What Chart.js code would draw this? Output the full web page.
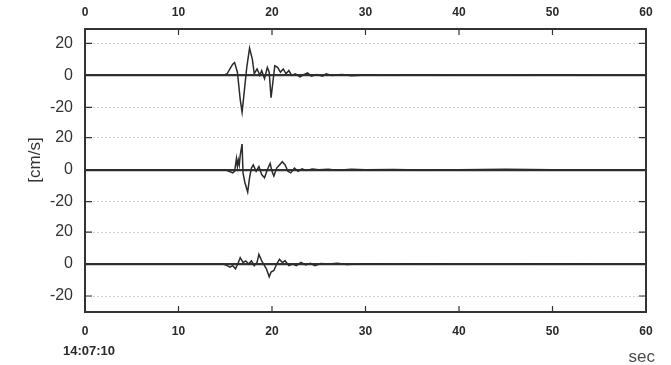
<!DOCTYPE html>
<html>
<head>
<meta charset="utf-8">
<script src="https://cdn.jsdelivr.net/npm/chart.js@4/dist/chart.umd.min.js"></script>
<style>
  html, body { margin: 0; padding: 0; background: #ffffff; }
  #wrap { position: relative; width: 671px; height: 365px; }
</style>
</head>
<body>
<div id="wrap"><canvas id="c"></canvas></div>
<script>
// ---- data (velocity in cm/s vs seconds after 14:07:10) ----
const xTicks = [0, 10, 20, 30, 40, 50, 60];
const yTickLabels = [20, 0, -20];
const traceOffsets = [0, -59, -118];   // vertical stacking of the three components
const startTime = "14:07:10";
const xUnit = "sec";
const yUnit = "[cm/s]";

const trace1Time = [0, 14.8, 15.2, 15.5, 15.8, 16.0, 16.3, 16.6, 16.8, 17.0, 17.3, 17.6, 17.9, 18.1, 18.4, 18.7, 18.9, 19.2, 19.5, 19.7, 19.9, 20.1, 20.3, 20.6, 20.9, 21.2, 21.5, 21.8, 22.1, 22.5, 23.0, 23.4, 23.8, 24.2, 24.8, 25.4, 25.8, 26.4, 27.5, 28.5, 30, 32, 35, 40, 45, 50, 55, 60];
const trace1Vel  = [0, 0, 1, 4, 7, 8, 2, -15, -23, -12, 5, 17, 10, 1, 4, 0, 3, -2, 5, 2, -14, -4, 6, 5, 2, 4, 1, 3, 0, 1, -1, 0.5, 1.5, -0.5, 0.5, -0.5, 1, 0, 0.5, -0.3, 0.3, 0, 0.2, 0, 0, 0.2, 0, 0];

const trace2Time = [0, 15.0, 15.4, 15.8, 16.0, 16.2, 16.3, 16.4, 16.5, 16.6, 16.8, 16.9, 17.1, 17.4, 17.6, 17.8, 18.0, 18.3, 18.6, 18.9, 19.2, 19.5, 19.8, 20.0, 20.2, 20.5, 20.8, 21.1, 21.4, 21.7, 22.0, 22.4, 22.8, 23.2, 23.7, 24.3, 25, 26, 27, 28.5, 30, 33, 36, 40, 45, 50, 55, 60];
const trace2Vel  = [0, 0, -1, -2, -1, 7, 2, 6, 3, 9, 16, -2, -8, -14, -5, 1, 3, -1, 2, -3, -5, 0, 4, -1, -4, 1, 3, 5, 3, -1, -2, 1, -1, 0.5, -0.5, 0.5, 0, 0.3, -0.3, 0.3, 0, 0.2, -0.2, 0, 0.3, 0, 0, 0];

const trace3Time = [0, 14.8, 15.2, 15.5, 15.8, 16.1, 16.4, 16.6, 16.9, 17.2, 17.5, 17.8, 18.1, 18.4, 18.6, 18.9, 19.1, 19.4, 19.7, 19.9, 20.2, 20.5, 20.8, 21.1, 21.4, 21.8, 22.2, 22.6, 23.1, 23.6, 24.1, 24.6, 25.2, 26, 27, 28, 30, 33, 36, 40, 45, 50, 55, 60];
const trace3Vel  = [0, 0, -1, -2, -1, -3, 1, 4, 1, 2, 0, 2, -1, 1, 6, 2, 0, -3, -8, -5, -4, 0, 3, 1, 2, -1, 0, -1, 1, -0.5, 0.5, -1, 0.3, 0, 0.5, -0.3, 0.2, 0, 0.2, 0, 0, 0.2, 0, 0];

// ---- build ----
const traces = [[trace1Time, trace1Vel], [trace2Time, trace2Vel], [trace3Time, trace3Vel]];
const yTickValues = [];
traceOffsets.forEach(o => yTickLabels.forEach(l => yTickValues.push(o + l)));
const zeroValues = traceOffsets.slice();

function labelFor(v) {
  let best = traceOffsets[0];
  traceOffsets.forEach(o => { if (Math.abs(v - o) < Math.abs(v - best)) best = o; });
  return String(Math.round(v - best));
}
function isZero(v) { return zeroValues.some(z => Math.abs(z - v) < 1e-6); }

const datasets = traces.map(([t, v], i) => ({
  data: t.map((x, k) => ({ x: x, y: v[k] + traceOffsets[i] })),
  borderColor: '#2b2b2b',
  borderWidth: 1.5,
  pointRadius: 0,
  tension: 0,
  fill: false,
  xAxisID: 'x',
  yAxisID: 'y'
}));

const frame = {
  id: 'frame',
  afterDatasetsDraw(chart) {
    const { ctx, chartArea: a, scales } = chart;
    ctx.save();
    ctx.strokeStyle = '#333';
    ctx.lineWidth = 1.2;
    xTicks.forEach(v => {
      if (v === 0 || v === 60) return;
      const px = scales.x.getPixelForValue(v);
      ctx.beginPath();
      ctx.moveTo(px, a.top); ctx.lineTo(px, a.top + 6);
      ctx.moveTo(px, a.bottom); ctx.lineTo(px, a.bottom - 6);
      ctx.stroke();
    });
    yTickValues.forEach(v => {
      if (isZero(v)) return;
      const py = scales.y.getPixelForValue(v);
      ctx.beginPath();
      ctx.moveTo(a.left, py); ctx.lineTo(a.left + 7, py);
      ctx.moveTo(a.right, py); ctx.lineTo(a.right - 7, py);
      ctx.stroke();
    });
    ctx.lineWidth = 2;
    ctx.strokeRect(a.left, a.top, a.right - a.left, a.bottom - a.top);
    ctx.restore();
  },
  afterDraw(chart) {
    const { ctx, scales } = chart;
    ctx.save();
    ctx.fillStyle = '#2a2a2a';
    ctx.font = 'bold 13px "Liberation Sans", Arial, sans-serif';
    ctx.textAlign = 'center';
    ctx.textBaseline = 'middle';
    ctx.fillText(startTime, scales.x.getPixelForValue(0) + 4, 351);
    ctx.fillStyle = '#4a4a4a';
    ctx.font = '17px "Liberation Sans", Arial, sans-serif';
    ctx.textAlign = 'right';
    ctx.textBaseline = 'alphabetic';
    ctx.fillText(xUnit, 655, 362);
    ctx.fillStyle = '#333';
    ctx.font = '17px "Liberation Sans", Arial, sans-serif';
    ctx.translate(35, 160);
    ctx.rotate(-Math.PI / 2);
    ctx.textAlign = 'center';
    ctx.textBaseline = 'middle';
    ctx.fillText(yUnit, 0, 0);
    ctx.restore();
  }
};

const tickFontBold = { family: '"Liberation Sans", Arial, sans-serif', size: 12, weight: 'bold' };

new Chart(document.getElementById('c'), {
  type: 'line',
  data: { datasets },
  plugins: [frame],
  options: {
    responsive: true,
    maintainAspectRatio: false,
    animation: false,
    events: [],
    layout: { padding: { left: 0, right: 25, top: 0, bottom: 0 } },
    plugins: { legend: { display: false }, tooltip: { enabled: false } },
    scales: {
      x: {
        type: 'linear', position: 'bottom', min: 0, max: 60,
        afterFit(s) { s.height = 53; },
        afterBuildTicks(s) { s.ticks = xTicks.map(v => ({ value: v })); },
        grid: { display: false, drawTicks: false },
        border: { display: false },
        ticks: { padding: 12, color: '#2a2a2a', font: tickFontBold, maxRotation: 0, autoSkip: false }
      },
      x2: {
        type: 'linear', position: 'top', min: 0, max: 60,
        afterFit(s) { s.height = 29; },
        afterBuildTicks(s) { s.ticks = xTicks.map(v => ({ value: v })); },
        grid: { display: false, drawTicks: false },
        border: { display: false },
        ticks: { padding: 9, color: '#2a2a2a', font: tickFontBold, maxRotation: 0, autoSkip: false }
      },
      y: {
        type: 'linear', position: 'left', min: -148, max: 29,
        afterFit(s) { s.width = 85; },
        afterBuildTicks(s) { s.ticks = yTickValues.map(v => ({ value: v })); },
        grid: {
          drawTicks: false,
          color: ctx => (ctx.tick && isZero(ctx.tick.value)) ? '#333' : '#d2d2d2',
          lineWidth: ctx => (ctx.tick && isZero(ctx.tick.value)) ? 2.2 : 1
        },
        border: {
          display: false,
          dash: ctx => (ctx.tick && isZero(ctx.tick.value)) ? [] : [2, 2]
        },
        ticks: {
          padding: 12, color: '#333',
          font: { family: '"Liberation Sans", Arial, sans-serif', size: 16 },
          callback: v => labelFor(v)
        }
      }
    }
  }
});
</script>
</body>
</html>
